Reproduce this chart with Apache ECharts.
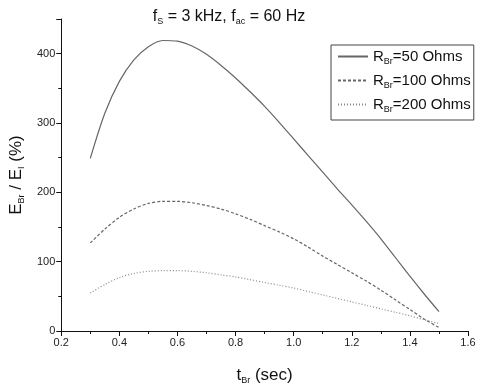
<!DOCTYPE html>
<html>
<head>
<meta charset="utf-8">
<script src="https://cdn.jsdelivr.net/npm/echarts@6/dist/echarts.min.js"></script>
<style>
  html, body { margin: 0; padding: 0; background: #fff; }
  #chart { width: 481px; height: 390px; }
</style>
</head>
<body>
<div id="chart"></div>
<script>
var tBr = [0.30, 0.35, 0.40, 0.45, 0.50, 0.55, 0.60, 0.65, 0.70, 0.75, 0.80, 0.85, 0.90,
           0.95, 1.00, 1.05, 1.10, 1.15, 1.20, 1.25, 1.30, 1.35, 1.40, 1.45, 1.50];
var r50  = [249, 314, 360, 391, 410, 419, 418, 411, 399, 383, 365, 345, 324,
            301, 277, 253, 229, 205, 182, 158, 133, 106, 79, 53, 28];
var r100 = [127, 147, 164, 176, 184, 187, 187, 185, 181, 176, 169, 161, 152,
            143, 133, 121, 108, 96, 84, 72, 59, 45, 31, 17, 5];
var r200 = [55, 67, 77, 83, 86, 87, 87, 86, 84, 81, 78, 74, 70,
            66, 62, 57, 52, 47, 42, 37, 32, 27, 22, 16, 11];
var seriesNames = ['50', '100', '200'];

function pairs(ys) {
  return tBr.map(function (t, i) { return [t, ys[i]]; });
}

var chart = echarts.init(document.getElementById('chart'));
var font = 'Liberation Sans';
var lineColor = '#666';

var option = {
  backgroundColor: '#fff',
  animation: false,
  textStyle: { fontFamily: font },
  title: {
    text: '{a|f}{s|S}{a| = 3 kHz, f}{s|ac}{a| = 60 Hz}',
    left: 224,
    textAlign: 'center',
    top: 2,
    textStyle: {
      fontWeight: 'normal',
      rich: {
        a: { fontSize: 16, color: '#111', fontFamily: font },
        s: { fontSize: 9, color: '#111', fontFamily: font, padding: [10, 0, 0, 0] }
      }
    }
  },
  grid: { left: 53, right: 13, top: 19, bottom: 59 },
  legend: {
    orient: 'vertical',
    left: 331,
    top: 45,
    padding: [4, 3, 6, 6],
    itemGap: 7,
    itemWidth: 30,
    itemHeight: 18,
    borderColor: '#444',
    borderWidth: 1,
    itemStyle: { opacity: 0 },
    data: seriesNames,
    formatter: function (n) { return '{r|R}{s|Br}{r|=' + n + ' Ohms}'; },
    textStyle: {
      rich: {
        r: { fontSize: 15, color: '#111', fontFamily: font },
        s: { fontSize: 9, color: '#111', fontFamily: font, padding: [10, 0, 0, 0] }
      }
    }
  },
  xAxis: {
    type: 'value',
    min: 0.2,
    max: 1.6,
    interval: 0.2,
    name: '{a|t}{s|Br}{a| (sec)}',
    nameLocation: 'middle',
    nameGap: 35,
    nameTextStyle: {
      rich: {
        a: { fontSize: 17, color: '#111', fontFamily: font },
        s: { fontSize: 9, color: '#111', fontFamily: font, padding: [10, 0, 0, 0] }
      }
    },
    axisLine: { lineStyle: { color: '#111', width: 1 } },
    axisTick: { length: 5, lineStyle: { color: '#111' } },
    minorTick: { show: true, splitNumber: 2, length: 3, lineStyle: { color: '#111' } },
    splitLine: { show: false },
    axisLabel: {
      color: '#222', fontSize: 11, margin: 6,
      formatter: function (v) { return v.toFixed(1); }
    }
  },
  yAxis: {
    type: 'value',
    min: 0,
    max: 450,
    interval: 100,
    name: '{a|E}{s|Br}{a| / E}{s|I}{a| (%)}',
    nameLocation: 'middle',
    nameRotate: 90,
    nameGap: 34,
    nameTextStyle: {
      rich: {
        a: { fontSize: 17, color: '#111', fontFamily: font },
        s: { fontSize: 9, color: '#111', fontFamily: font, padding: [10, 0, 0, 0] }
      }
    },
    axisLine: { show: true, lineStyle: { color: '#111', width: 1 } },
    axisTick: { show: true, length: 5, lineStyle: { color: '#111' } },
    minorTick: { show: true, splitNumber: 2, length: 3, lineStyle: { color: '#111' } },
    splitLine: { show: false },
    axisLabel: {
      color: '#222', fontSize: 11, margin: 6,
      formatter: function (v) { return v % 100 === 0 ? String(v) : ''; }
    }
  },
  series: [
    {
      name: seriesNames[0], type: 'line', smooth: 0.3, symbol: 'none',
      lineStyle: { color: lineColor, width: 1.2, type: 'solid' },
      itemStyle: { color: lineColor },
      data: pairs(r50)
    },
    {
      name: seriesNames[1], type: 'line', smooth: 0.3, symbol: 'none',
      lineStyle: { color: lineColor, width: 1.2, type: [3, 2] },
      itemStyle: { color: lineColor },
      data: pairs(r100)
    },
    {
      name: seriesNames[2], type: 'line', smooth: 0.3, symbol: 'none',
      lineStyle: { color: '#888', width: 1.2, type: [1, 2] },
      itemStyle: { color: '#888' },
      data: pairs(r200)
    }
  ]
};
chart.setOption(option);
</script>
</body>
</html>
